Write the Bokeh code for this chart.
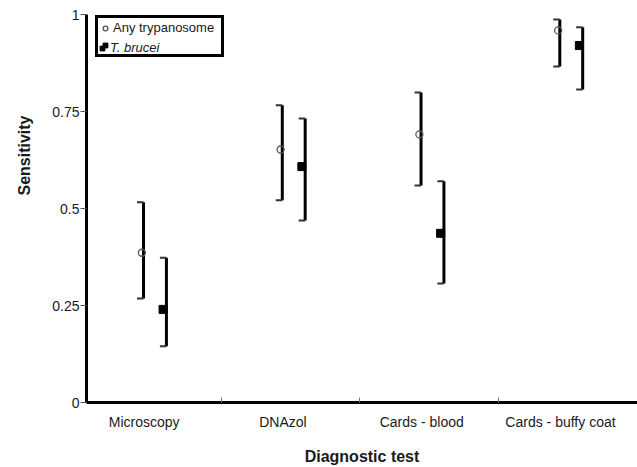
import numpy as np
from bokeh.plotting import figure
from bokeh.models import Range1d, FixedTicker, Legend, LegendItem, Title
from bokeh.embed import file_html
from bokeh.resources import INLINE

# ---- data ----
categories = ["Microscopy", "DNAzol", "Cards - blood", "Cards - buffy coat"]
any_est = [0.386, 0.652, 0.691, 0.959]
any_lo = [0.268, 0.521, 0.559, 0.866]
any_hi = [0.516, 0.766, 0.799, 0.987]
bru_est = [0.240, 0.608, 0.436, 0.920]
bru_lo = [0.145, 0.469, 0.307, 0.807]
bru_hi = [0.373, 0.732, 0.570, 0.967]
y_ticks = [0, 0.25, 0.5, 0.75, 1]
y_tick_labels = ["0", "0.25", "0.5", "0.75", "1"]
series_names = ["Any trypanosome", "T. brucei"]

# ---- styling / layout ----
FONT = "Liberation Sans"
TXT = "#1a1a1a"
ANY_OFF = 0.44
BRU_OFF = 0.605
LABEL_OFF = 0.445
CAP = 0.047
W, H = 637, 467

idx = np.arange(len(categories))
any_x = idx + ANY_OFF
bru_x = idx + BRU_OFF

p = figure(width=W, height=H,
           x_range=Range1d(0.029, 4.0), y_range=Range1d(0, 1),
           output_backend="svg", toolbar_location=None,
           min_border_left=85, min_border_right=0,
           min_border_top=14, min_border_bottom=65)
p.outline_line_color = None
p.grid.visible = False
p.background_fill_color = "white"
p.border_fill_color = "white"

for xs, lo, hi in ((any_x, any_lo, any_hi), (bru_x, bru_lo, bru_hi)):
    p.segment(x0=xs, y0=lo, x1=xs, y1=hi, line_width=3, line_color="black")
    p.segment(x0=xs - CAP, y0=lo, x1=xs, y1=lo, line_width=2, line_color="#333333")
    p.segment(x0=xs - CAP, y0=hi, x1=xs, y1=hi, line_width=2, line_color="#333333")

r_any = p.scatter(any_x - 0.012, any_est, marker="circle", size=7,
                  fill_alpha=0, line_color="#555555", line_width=1.3)
r_bru = p.scatter(bru_x - 0.024, bru_est, marker="square", size=8,
                  fill_color="black", line_color="black")

# y axis
p.yaxis.ticker = FixedTicker(ticks=y_ticks)
p.yaxis.major_label_overrides = {float(t): l for t, l in zip(y_ticks, y_tick_labels)}
p.yaxis.axis_line_width = 3
p.yaxis.axis_line_color = "black"
p.yaxis.major_tick_out = 6
p.yaxis.major_tick_in = 0
p.yaxis.major_tick_line_color = "#555555"
p.yaxis.minor_tick_out = 0
p.yaxis.minor_tick_in = 0
p.yaxis.major_label_standoff = 1
p.yaxis.major_label_text_font = FONT
p.yaxis.major_label_text_font_size = "14px"
p.yaxis.major_label_text_color = TXT

# x axis
label_pos = [float(i + LABEL_OFF) for i in idx]
p.xaxis.ticker = FixedTicker(ticks=label_pos, minor_ticks=[float(i) for i in idx[1:]])
p.xaxis.major_label_overrides = {pos: c for pos, c in zip(label_pos, categories)}
p.xaxis.axis_line_width = 3
p.xaxis.axis_line_color = "black"
p.xaxis.major_tick_in = 0
p.xaxis.major_tick_out = 0
p.xaxis.minor_tick_in = 5
p.xaxis.minor_tick_out = 0
p.xaxis.minor_tick_line_color = "#777777"
p.xaxis.major_label_standoff = 11
p.xaxis.major_label_text_font = FONT
p.xaxis.major_label_text_font_size = "14px"
p.xaxis.major_label_text_color = TXT
p.xaxis.axis_label = "Diagnostic test"
p.xaxis.axis_label_text_font = FONT
p.xaxis.axis_label_text_font_size = "16px"
p.xaxis.axis_label_text_font_style = "bold"
p.xaxis.axis_label_text_color = TXT
p.xaxis.axis_label_standoff = 15

# y title as a side-panel title (lets it sit above the frame centre)
p.add_layout(Title(text="Sensitivity", align="right", offset=101,
                   vertical_align="top", standoff=30,
                   text_font=FONT, text_font_size="16px",
                   text_font_style="bold", text_color=TXT), "left")

# legend (two overlaid legends so the second label can be italic)
common = dict(location=(9, 345), glyph_width=12, glyph_height=12,
              label_height=17, label_width=107, spacing=0, padding=1,
              label_standoff=2, margin=0, label_text_font=FONT,
              label_text_font_size="13px", label_text_color=TXT)
legA = Legend(items=[LegendItem(label=series_names[0], renderers=[r_any]),
                     LegendItem(label=" ", renderers=[r_bru])],
              border_line_width=3, border_line_color="black", border_line_alpha=1.0,
              background_fill_color="white", background_fill_alpha=1, **common)
legB = Legend(items=[LegendItem(label=series_names[1], renderers=[r_bru])],
              border_line_alpha=0, background_fill_alpha=0,
              label_text_font_style="italic", **common)
p.add_layout(legA)
p.add_layout(legB)

open("out.html", "w").write(file_html(p, INLINE))
